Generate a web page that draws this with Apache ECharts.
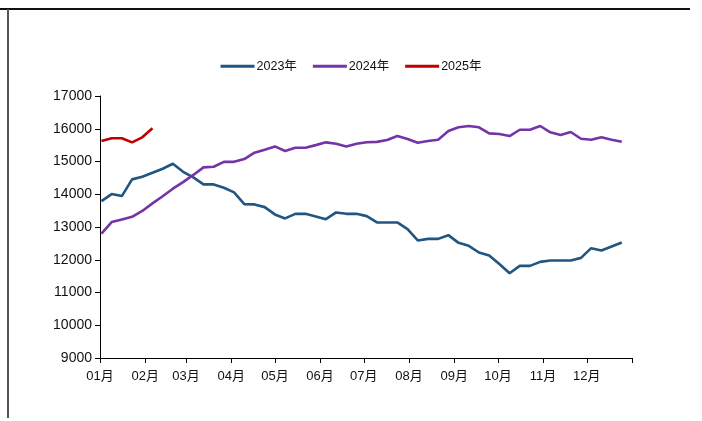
<!DOCTYPE html>
<html>
<head>
<meta charset="utf-8">
<script src="https://cdn.jsdelivr.net/npm/echarts@6/dist/echarts.min.js"></script>
<style>
html, body { margin: 0; padding: 0; background: #fff; }
#chart { width: 702px; height: 421px; }
</style>
</head>
<body>
<div id="chart"></div>
<script>
// weekly prices, one point per week
const SERIES_NAMES = ['2023年', '2024年', '2025年'];
const V2023 = [13790, 14005, 13944, 14454, 14534, 14656, 14778, 14931, 14686, 14515,
    14301, 14301, 14197, 14057, 13699, 13690, 13607, 13384, 13262, 13402,
    13402, 13323, 13240, 13445, 13402, 13402, 13332, 13139, 13139, 13139,
    12935, 12589, 12638, 12638, 12751, 12516, 12424, 12222, 12131, 11870,
    11589, 11813, 11813, 11935, 11978, 11978, 11978, 12057, 12354, 12283,
    12406, 12528];
const V2024 = [12800, 13150, 13230, 13310, 13490, 13720, 13940, 14170, 14370, 14590,
    14820, 14840, 14990, 14990, 15075, 15270, 15360, 15460, 15320, 15420,
    15420, 15500, 15585, 15540, 15460, 15540, 15590, 15600, 15656, 15778,
    15686, 15573, 15625, 15665, 15931, 16044, 16084, 16044, 15860, 15839,
    15778, 15970, 15970, 16084, 15891, 15808, 15900, 15695, 15665, 15738,
    15665, 15604];
const V2025 = [15625, 15708, 15708, 15585, 15738, 16013];

// month start (day of year) and labels for the x axis
const MONTH_DAYS = [0, 31, 59, 90, 120, 151, 181, 212, 243, 273, 304, 334];
const MONTH_LABELS = ['01月', '02月', '03月', '04月', '05月', '06月', '07月', '08月', '09月', '10月', '11月', '12月'];
const Y_TICKS = [9000, 10000, 11000, 12000, 13000, 14000, 15000, 16000, 17000];

const COLORS = ['#215582', '#7434a8', '#c00000'];
const FONT = "'Liberation Sans', Arial, 'Noto Sans CJK SC', sans-serif";

const toPoints = (vals) => vals.map((v, i) => [1 + i * 7, v]);

const chart = echarts.init(document.getElementById('chart'));

chart.setOption({
    animation: false,
    textStyle: { fontFamily: FONT },
    graphic: [
        { type: 'line', shape: { x1: 0, y1: 9, x2: 690, y2: 9 }, style: { stroke: '#111', lineWidth: 2 } },
        { type: 'line', shape: { x1: 8, y1: 9, x2: 8, y2: 418 }, style: { stroke: '#555', lineWidth: 2 } }
    ],
    legend: {
        top: 55,
        left: 'center',
        icon: 'rect',
        itemWidth: 34,
        itemHeight: 3,
        itemGap: 16,
        textStyle: { fontSize: 12.5, color: '#111', fontFamily: FONT, padding: [0, 0, 0, -3] },
        data: SERIES_NAMES
    },
    grid: { left: 100, right: 70, top: 96, bottom: 63 },
    xAxis: {
        type: 'value',
        min: 0,
        max: 365,
        splitLine: { show: false },
        axisLine: { lineStyle: { color: '#000', width: 1 } },
        axisTick: { show: true, length: 5, lineStyle: { color: '#000' }, customValues: MONTH_DAYS.concat([365]) },
        axisLabel: {
            customValues: MONTH_DAYS,
            margin: 12,
            fontSize: 13,
            color: '#111',
            fontFamily: FONT,
            formatter: (v) => MONTH_LABELS[MONTH_DAYS.indexOf(v)] || ''
        }
    },
    yAxis: {
        type: 'value',
        min: Y_TICKS[0],
        max: Y_TICKS[Y_TICKS.length - 1],
        interval: 1000,
        splitLine: { show: false },
        axisLine: { show: true, lineStyle: { color: '#000', width: 1 } },
        axisTick: { show: true, length: 5, lineStyle: { color: '#000' } },
        axisLabel: { margin: 8, fontSize: 14, color: '#111', fontFamily: FONT, formatter: (v) => String(v) }
    },
    series: [
        { name: SERIES_NAMES[0], type: 'line', data: toPoints(V2023), showSymbol: false, symbol: 'none',
          lineStyle: { width: 2.6, color: COLORS[0] }, itemStyle: { color: COLORS[0] } },
        { name: SERIES_NAMES[1], type: 'line', data: toPoints(V2024), showSymbol: false, symbol: 'none',
          lineStyle: { width: 2.6, color: COLORS[1] }, itemStyle: { color: COLORS[1] } },
        { name: SERIES_NAMES[2], type: 'line', data: toPoints(V2025), showSymbol: false, symbol: 'none',
          lineStyle: { width: 2.6, color: COLORS[2] }, itemStyle: { color: COLORS[2] } }
    ]
});
</script>
</body>
</html>
